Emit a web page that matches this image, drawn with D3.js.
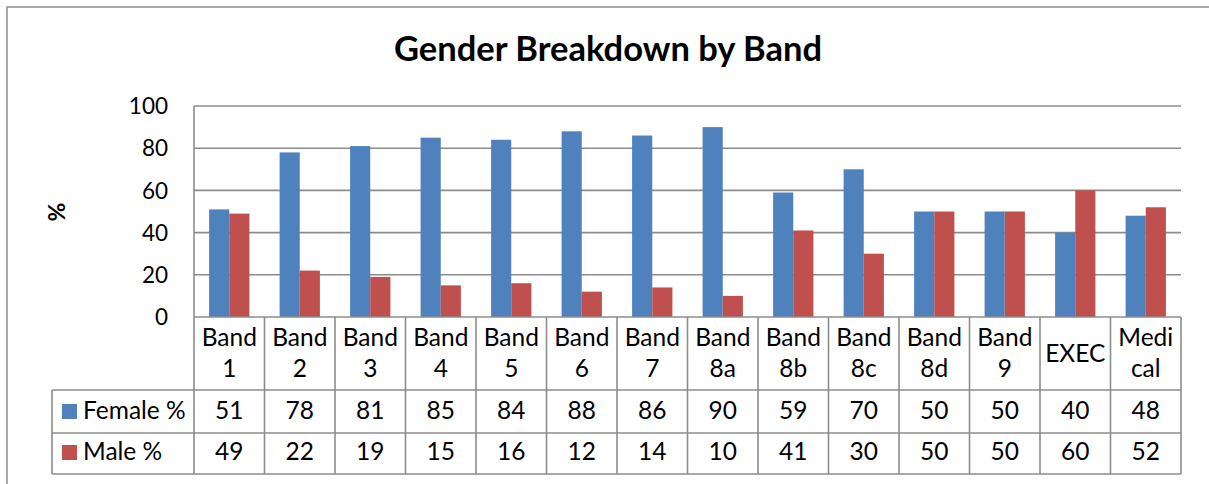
<!DOCTYPE html>
<html><head><meta charset="utf-8">
<script src="https://cdn.jsdelivr.net/npm/d3@7"></script>
<style>
html,body{margin:0;padding:0;background:#fff;}
svg{display:block;font-family:Lato,"Open Sans",sans-serif;}
</style></head>
<body>
<svg id="chart" width="1209" height="484"></svg>
<script>
const title = "Gender Breakdown by Band";
const yTitle = "%";
const categories = ["Band 1","Band 2","Band 3","Band 4","Band 5","Band 6","Band 7","Band 8a","Band 8b","Band 8c","Band 8d","Band 9","EXEC","Medical"];
const categoryLines = [["Band","1"],["Band","2"],["Band","3"],["Band","4"],["Band","5"],["Band","6"],["Band","7"],["Band","8a"],["Band","8b"],["Band","8c"],["Band","8d"],["Band","9"],["EXEC"],["Medi","cal"]];
const seriesNames = ["Female %","Male %"];
const female = [51,78,81,85,84,88,86,90,59,70,50,50,40,48];
const male = [49,22,19,15,16,12,14,10,41,30,50,50,60,52];
const yTicks = [0,20,40,60,80,100];
const colors = ["#4F81BD","#C0504D"];

const seriesValues = [female, male];
const svg = d3.select("#chart");
const gridColor = "#8c8c8c";
const tfs = 24.5;

const L = 194, R = 1181, T = 106, B = 317;
const row1 = 390, row2 = 433, row3 = 474, legL = 52;

// outer border
svg.append("rect").attr("x",7).attr("y",7).attr("width",1230).attr("height",500)
  .attr("fill","none").attr("stroke","#8e8e8e").attr("stroke-width",1.5);

const y = d3.scaleLinear().domain([0,100]).range([B,T]);
const x = d3.scaleBand().domain(categories).range([L,R]).padding(0);
const xs = d3.scaleBand().domain(seriesNames).range([0,x.bandwidth()]).paddingInner(0).paddingOuter(0.75);

// gridlines
svg.append("g").selectAll("line").data(yTicks.filter(t=>t>0)).join("line")
  .attr("x1",L).attr("x2",R).attr("y1",d=>y(d)).attr("y2",d=>y(d))
  .attr("stroke",gridColor).attr("stroke-width",1.6);

// bars
seriesNames.forEach((s,si)=>{
  svg.append("g").selectAll("rect").data(categories).join("rect")
    .attr("x",c=>x(c)+xs(s)).attr("width",xs.bandwidth())
    .attr("y",(c,i)=>y(seriesValues[si][i])).attr("height",(c,i)=>B-y(seriesValues[si][i]))
    .attr("fill",colors[si]);
});

// y axis line
svg.append("line").attr("x1",L).attr("x2",L).attr("y1",T).attr("y2",B).attr("stroke",gridColor).attr("stroke-width",1.6);

// y tick labels
svg.append("g").selectAll("text").data(yTicks).join("text")
  .attr("x",168).attr("y",d=>y(d)).attr("dy","0.36em").attr("text-anchor","end")
  .attr("font-size",22.5).attr("fill","#000").text(d=>d);

// y title
svg.append("text").attr("transform","translate(65,212) rotate(-90)").attr("text-anchor","middle")
  .attr("font-size",23).attr("font-weight","bold").text(yTitle);

// title
svg.append("text").attr("x",608).attr("y",61).attr("text-anchor","middle")
  .attr("font-size",34.5).attr("font-weight","bold").text(title);

// table lines
const tg = svg.append("g").attr("stroke",gridColor).attr("stroke-width",1.6);
tg.append("line").attr("x1",L).attr("x2",R).attr("y1",B).attr("y2",B);
[row1,row2,row3].forEach(yy=>tg.append("line").attr("x1",legL).attr("x2",R).attr("y1",yy).attr("y2",yy));
tg.append("line").attr("x1",legL).attr("x2",legL).attr("y1",row1).attr("y2",row3);
categories.forEach(c=>tg.append("line").attr("x1",x(c)).attr("x2",x(c)).attr("y1",B).attr("y2",row3));
tg.append("line").attr("x1",R).attr("x2",R).attr("y1",B).attr("y2",row3);

// header text
const hg = svg.append("g").attr("font-size",tfs).attr("text-anchor","middle");
categories.forEach((c,i)=>{
  const lines = categoryLines[i];
  const cx = x(c)+x.bandwidth()/2;
  if(lines.length===1){
    hg.append("text").attr("x",cx).attr("y",362).text(lines[0]);
  } else {
    lines.forEach((ln,j)=>hg.append("text").attr("x",cx).attr("y",346+j*31).text(ln));
  }
});

// value rows
const rowBase = [419,460];
seriesNames.forEach((s,si)=>{
  svg.append("g").selectAll("text").data(categories).join("text")
    .attr("x",c=>x(c)+x.bandwidth()/2).attr("y",rowBase[si]).attr("text-anchor","middle")
    .attr("font-size",tfs).text((c,i)=>seriesValues[si][i]);
  svg.append("rect").attr("x",62).attr("y",rowBase[si]-15).attr("width",15).attr("height",15).attr("fill",colors[si]);
  svg.append("text").attr("x",83).attr("y",rowBase[si]).attr("font-size",tfs).text(s);
});
</script>
</body></html>
